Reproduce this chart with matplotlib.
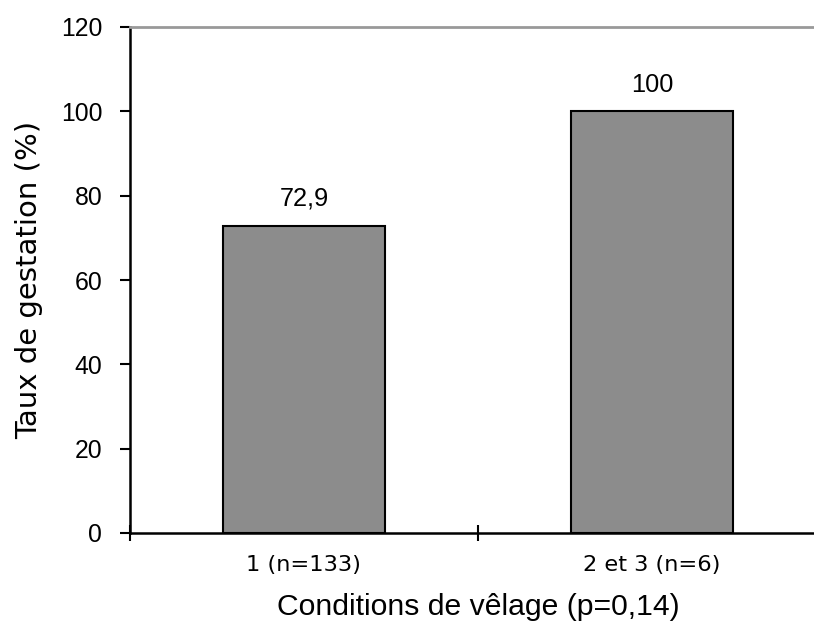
import matplotlib
matplotlib.use("Agg")
import matplotlib.pyplot as plt

categories = ["1 (n=133)", "2 et 3 (n=6)"]
values = [72.9, 100]
value_labels = ["72,9", "100"]
yticks = [0, 20, 40, 60, 80, 100, 120]

W, H = 814, 637
fig = plt.figure(figsize=(W / 100, H / 100), dpi=100)
left, right, bottom, top = 130, 826, 533, 27
ax = fig.add_axes([left / W, 1 - bottom / H, (right - left) / W, (bottom - top) / H])

x = range(len(categories))
ax.bar(x, values, width=0.466, color="#8c8c8c", edgecolor="black", linewidth=1.5, zorder=3)
for xi, v, lab in zip(x, values, value_labels):
    ax.text(xi, v + 4.7, lab, ha="center", va="baseline", fontsize=18.3,
            family="Liberation Sans")

ax.set_xlim(-0.5, 1.5)
ax.set_ylim(0, 120)
ax.set_yticks(yticks)
ax.set_yticklabels([str(t) for t in yticks], fontsize=17.8, family="Liberation Sans")
ax.tick_params(axis="y", direction="out", length=7, width=1.5, pad=13)

# Category labels centred, tick marks at category boundaries
ax.set_xticks([0, 1])
ax.set_xticklabels(categories, fontsize=16.2, family="DejaVu Sans")
ax.tick_params(axis="x", which="major", length=0, pad=16)
ax.set_xticks([-0.5, 0.5, 1.5], minor=True)
ax.tick_params(axis="x", which="minor", direction="inout", length=12, width=1.5)

ax.set_ylabel("Taux de gestation (%)", fontsize=21, family="DejaVu Sans", labelpad=13)
ax.set_xlabel("Conditions de vêlage (p=0,14)", fontsize=21.7, family="Liberation Sans",
              labelpad=13)

for s in ["left", "bottom"]:
    ax.spines[s].set_linewidth(1.8)
    ax.spines[s].set_color("black")
ax.spines["top"].set_color("#999999")
ax.spines["top"].set_linewidth(2)
ax.spines["right"].set_visible(False)

fig.savefig("out.png", dpi=100)
